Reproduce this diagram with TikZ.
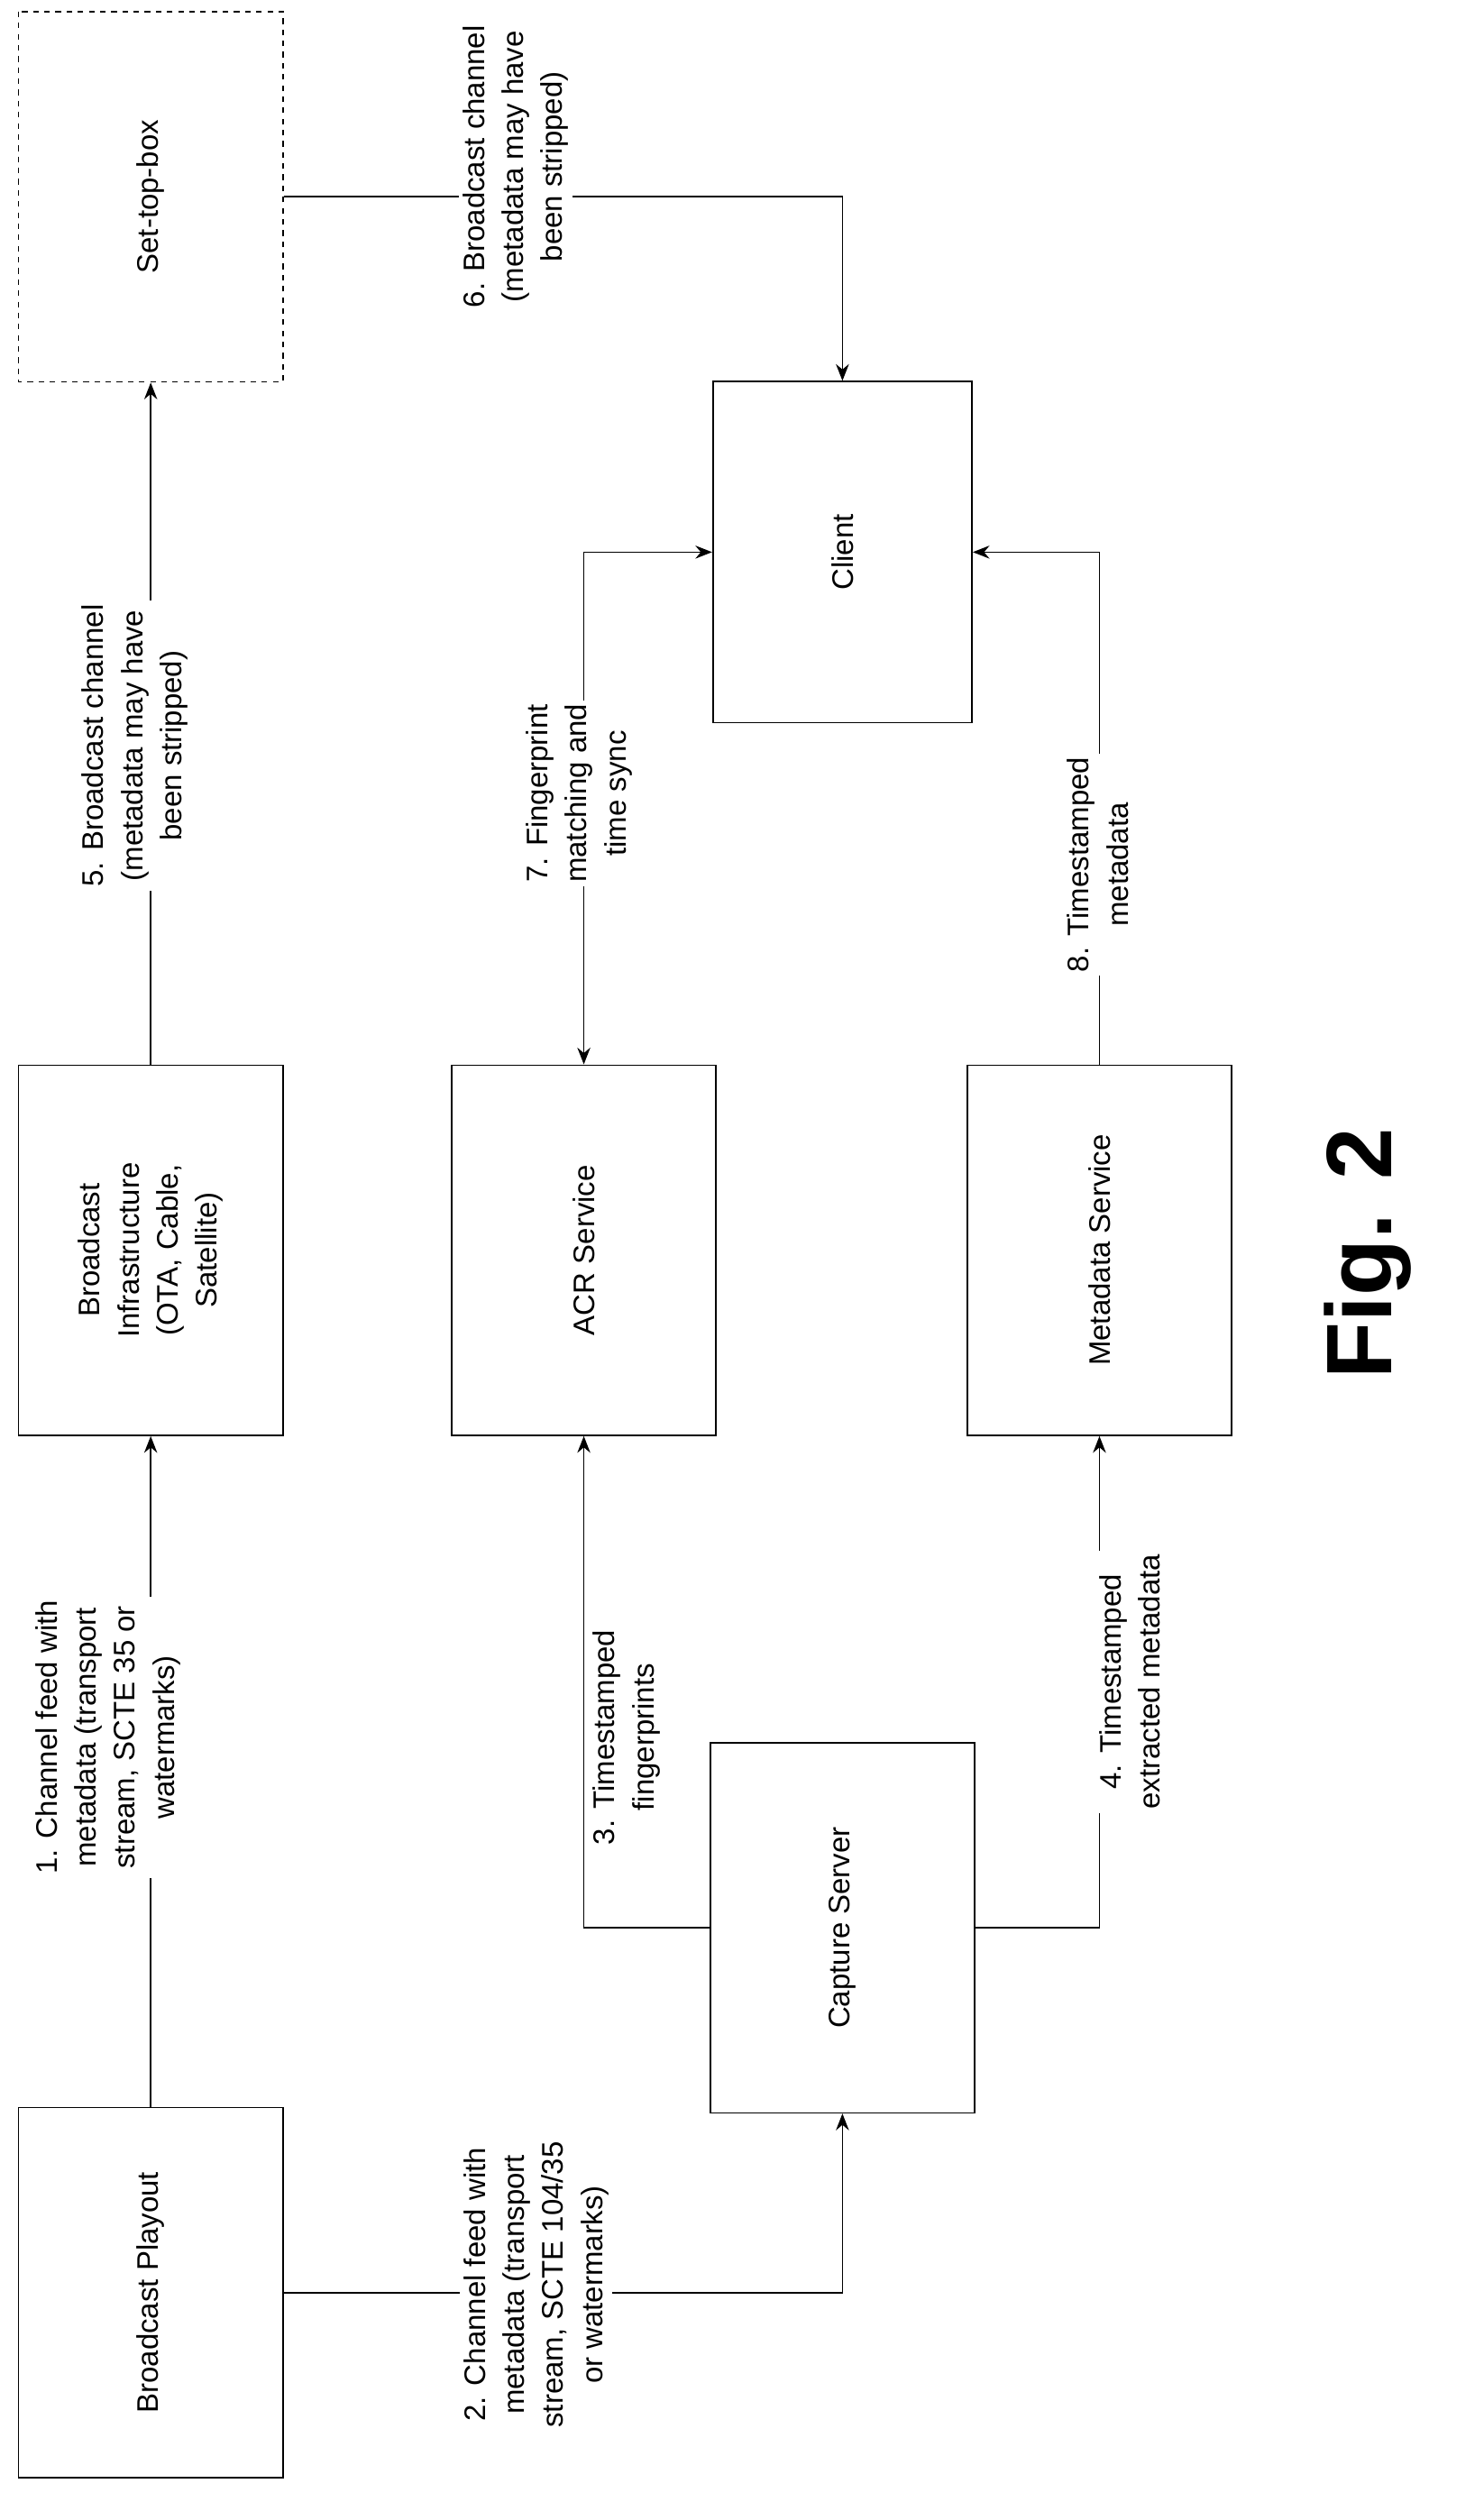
\documentclass[tikz,border=0pt]{standalone}
\usepackage{fontspec}
\setmainfont{Liberation Sans}
\usetikzlibrary{arrows.meta,positioning}
\tikzset{
    box/.style={
           rectangle,
           draw=black, thick,
           rotate=90,
           minimum width=7cm,
           minimum height=5cm,
           align=center,
           font=\fontsize{16}{21}\selectfont,
           },
    lbl/.style={
           rotate=90,
           fill=white,
           align=center,
           inner sep=2pt,
           font=\fontsize{16}{21}\selectfont,
           },
}

\begin{document}
\begin{tikzpicture}[x=0.03cm,y=-0.03cm,>={Stealth[length=9pt,width=7pt]},thick]
	\useasboundingbox (0,0) rectangle (935,1577);

	\node[box]         (playout) at (95,1445)  {Broadcast Playout};
	\node[box]         (infra)   at (95,788)   {Broadcast\\Infrastructure\\(OTA, Cable,\\Satellite)};
	\node[box,dashed]  (stb)     at (95,124)   {Set-top-box};
	\node[box]         (capture) at (531,1215) {Capture Server};
	\node[box]         (acr)     at (368,788)  {ACR Service};
	\node[box]         (meta)    at (693,788)  {Metadata Service};
	\node[box,minimum width=6.45cm,minimum height=4.9cm] (client) at (531,348) {Client};
	\node[rotate=90,font=\fontsize{50}{60}\selectfont\bfseries] (fig) at (862,790) {Fig. 2};

	\draw[->] (playout) -- (infra);
	\draw[->] (infra) -- (stb);
	\draw[->] (stb.south) -| (client.east);
	\draw[->] (playout.south) -| (capture.west);
	\draw[->] (capture.north) -| (acr.west);
	\draw[->] (capture.south) -| (meta.west);
	\draw[<->] (acr.east) |- (client.north);
	\draw[->] (meta.east) |- (client.south);

	% connector labels
	\node[lbl] (l1) at (68,1095) {1. Channel feed with\\metadata (transport\\stream, SCTE 35 or\\watermarks)};
	\node[lbl] (l5) at (85,470)  {5. Broadcast channel\\(metadata may have\\been stripped)};
	\node[lbl] (l6) at (325,105) {6. Broadcast channel\\(metadata may have\\been stripped)};
	\node[lbl] (l2) at (338,1440) {2. Channel feed with\\metadata (transport\\stream, SCTE 104/35\\or watermarks)};
	\node[lbl] (l3) at (395,1095) {3. Timestamped\\fingerprints};
	\node[lbl] (l4) at (712,1060) {4. Timestamped\\extracted metadata};
	\node[lbl] (l7) at (365,500)  {7. Fingerprint\\matching and\\time sync};
	\node[lbl] (l8) at (692,545)  {8. Timestamped\\metadata};
\end{tikzpicture}
\end{document}
